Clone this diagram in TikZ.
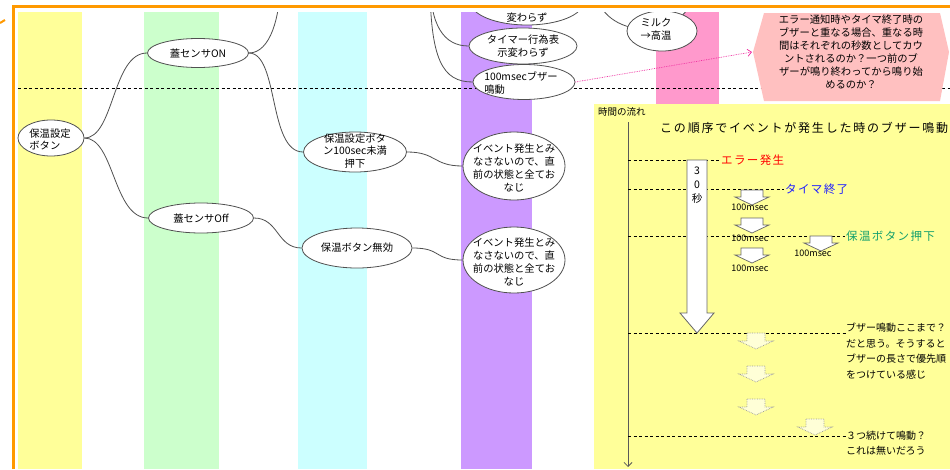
\documentclass[tikz,border=0pt]{standalone}
\usepackage{fontspec}
\setmainfont{Noto Sans CJK JP}
\newfontfamily\jpsp[LetterSpace=15]{Noto Sans CJK JP}
\newfontfamily\jpev[LetterSpace=12]{Noto Sans CJK JP}
\usetikzlibrary{shapes.geometric,arrows.meta}
\definecolor{frameor}{RGB}{255,153,0}
\definecolor{bandY}{RGB}{255,255,153}
\definecolor{bandG}{RGB}{204,255,204}
\definecolor{bandC}{RGB}{204,255,255}
\definecolor{bandP}{RGB}{204,153,255}
\definecolor{bandK}{RGB}{255,153,204}
\definecolor{hexpink}{RGB}{255,192,192}
\definecolor{linegray}{RGB}{80,80,80}
\definecolor{evgreen}{RGB}{20,160,110}
\definecolor{evblue}{RGB}{30,30,255}
\definecolor{fadefill}{RGB}{255,255,215}
\tikzset{
  ell/.style={ellipse, draw=linegray, line width=0.8pt, fill=white, inner sep=0pt},
  etext/.style={inner sep=0pt, align=center, font=\fontsize{10.3}{12.8}\selectfont},
  conn/.style={draw=linegray, line width=0.8pt},
  dline/.style={black, line width=0.6pt, dash pattern=on 3pt off 2.5pt},
  evtext/.style={inner sep=1pt, anchor=west, font=\jpev\fontsize{11.5}{13}\selectfont},
  notetext/.style={inner sep=1pt, anchor=west, align=left, font=\fontsize{10}{15.4}\selectfont},
  mslabel/.style={inner sep=0pt, font=\fontsize{9}{10}\selectfont},
  bigarrow/.style={fill=white, draw=black!60, line width=0.8pt},
  smallarrow/.style={fill=white, draw=black!60, line width=0.7pt},
  fadearrow/.style={fill=fadefill, draw=black!40, line width=0.7pt, densely dotted},
  darr/.pic={\filldraw[smallarrow] (-11,0) -- (11,0) -- (11,7) -- (17,7) -- (0,15) -- (-17,7) -- (-11,7) -- cycle;},
  farr/.pic={\filldraw[fadearrow] (-9,0) -- (9,0) -- (9,8) -- (17,8) -- (0,16) -- (-17,8) -- (-9,8) -- cycle;},
}
\begin{document}
\begin{tikzpicture}[x=1pt,y=-1pt]
\useasboundingbox (0,0) rectangle (950,469);
\fill[white] (0,0) rectangle (950,469);
\begin{scope}
\clip (15,12) rectangle (950,469);
% bands
\fill[bandY] (18,12) rectangle (82,469);
\fill[bandG] (144,12) rectangle (219,469);
\fill[bandC] (298,12) rectangle (367,469);
\fill[bandP] (461,12) rectangle (532,469);
\fill[bandK] (656,12) rectangle (719,104);
\fill[bandY] (594,104) rectangle (950,469);
% divider
\draw[dline] (18,88) -- (950,88);
% hexagon
\fill[hexpink] (753,52) -- (764,13) -- (940,13) -- (949,52) -- (940,101) -- (764,101) -- cycle;
\coordinate (hexL) at (752,52);
% ellipse nodes
\node[ell, minimum width=66pt, minimum height=36pt] (k) at (51,138) {};
\node[ell, minimum width=101pt, minimum height=29pt] (son) at (198,53) {};
\node[ell, minimum width=105pt, minimum height=30pt] (soff) at (201,218) {};
\node[ell, minimum width=103pt, minimum height=40pt] (p100) at (355,152) {};
\node[ell, minimum width=110pt, minimum height=40pt] (pinv) at (357,248) {};
\node[ell, minimum width=102pt, minimum height=68pt] (ev1) at (514,166) {};
\node[ell, minimum width=102pt, minimum height=66pt] (ev2) at (514,260) {};
\node[ell, minimum width=113pt, minimum height=46pt] (kw) at (527,2) {};
\node[ell, minimum width=108pt, minimum height=36pt] (tm) at (523,46) {};
\node[ell, minimum width=102pt, minimum height=35pt] (bz) at (524,82) {};
\node[ell, minimum width=96pt, minimum height=74pt] (bg) at (645,-8) {};
\node[ell, minimum width=70pt, minimum height=40pt] (mk) at (662,31) {};
\coordinate (up1) at (280,-15);
\coordinate (up2) at (430,-20);
% connectors
\draw[conn] (k.east) .. controls +(30,0) and +(-35,0) .. (son.west);
\draw[conn] (k.east) .. controls +(30,0) and +(-35,0) .. (soff.west);
\draw[conn] (son.east) .. controls +(30,0) and +(-35,0) .. (p100.west);
\draw[conn] (son.east) .. controls +(22,0) and +(0,30) .. (up1);
\draw[conn] (soff.east) .. controls +(25,0) and +(-25,0) .. (pinv.west);
\draw[conn] (p100.east) .. controls +(30,0) and +(-30,0) .. (ev1.west);
\draw[conn] (pinv.east) .. controls +(30,0) and +(-30,0) .. (ev2.west);
\draw[conn] (up2) .. controls +(0,45) and +(-25,0) .. (tm.west);
\draw[conn] (up2) .. controls +(0,80) and +(-30,0) .. (bz.west);
% node texts
\node[etext, align=left, font=\fontsize{10.3}{12}\selectfont] (kt) at (50,139) {保温設定\\ボタン};
\node[etext] (sont) at (198,53) {蓋センサON};
\node[etext] (sofft) at (201,218) {蓋センサOff};
\node[etext] (p100t) at (355,151) {保温設定ボタ\\ン100sec未満\\押下};
\node[etext] (pinvt) at (357,248) {保温ボタン無効};
\node[etext] (ev1t) at (514,168) {イベント発生とみ\\なさないので、直\\前の状態と全てお\\なじ};
\node[etext] (ev2t) at (514,262) {イベント発生とみ\\なさないので、直\\前の状態と全てお\\なじ};
\node[etext] (kwt) at (527,18) {変わらず};
\node[etext] (tmt) at (523,46) {タイマー行為表\\示変わらず};
\node[etext, align=left] (bzt) at (521,83) {100msecブザー\\鳴動};
\node[etext, align=left] (mkt) at (656,29) {ミルク\\→高温};
% pink arrow
\draw[magenta!85, line width=0.7pt, densely dotted, -{Straight Barb[length=4pt,width=7pt]}] (bz.east) -- (hexL);
% hexagon text
\node[etext, font=\fontsize{10.3}{13}\selectfont] (hx) at (851,52) {エラー通知時やタイマ終了時の\\ブザーと重なる場合、重なる時\\間はそれぞれの秒数としてカウ\\ントされるのか？一つ前のブ\\ザーが鳴り終わってから鳴り始\\めるのか？};
% ---- time panel ----
\node[inner sep=0pt, anchor=west, font=\fontsize{9.5}{11}\selectfont] (flow) at (598,112) {時間の流れ};
\draw[black!65, line width=0.8pt, -{Straight Barb[length=4pt,width=8pt]}] (628,122) -- (628,467);
\node[inner sep=0pt, anchor=west, font=\jpsp\fontsize{12}{14}\selectfont] (ttl) at (660,128) {この順序でイベントが発生した時のブザー鳴動};
\coordinate (a1) at (628,160);
\coordinate (a2) at (628,189);
\coordinate (a3) at (628,236);
\coordinate (a4) at (628,333);
\coordinate (a5) at (628,436);
\coordinate (b4) at (846,333);
\coordinate (b5) at (846,436);
\node[evtext, text=red] (e1) at (720,160) {エラー発生};
\node[evtext, text=evblue] (e2) at (784,189) {タイマ終了};
\node[evtext, text=evgreen] (e3) at (845,236) {保温ボタン押下};
\draw[dline] (a1) -- (e1.west);
\draw[dline] (a2) -- (e2.west);
\draw[dline] (a3) -- (e3.west);
\draw[dline] (a4) -- (b4);
\draw[dline] (a5) -- (b5);
\node[notetext] (n1) at (845,351) {ブザー鳴動ここまで？\\だと思う。そうすると\\ブザーの長さで優先順\\をつけている感じ};
\node[notetext] (n2) at (845,443) {３つ続けて鳴動？\\これは無いだろう};
% big arrow 30 sec
\filldraw[bigarrow] (687,160) -- (707,160) -- (707,313) -- (714,313) -- (697,333) -- (680,313) -- (687,313) -- cycle;
\node[inner sep=0pt, font=\fontsize{10.5}{12}\selectfont] (s1) at (697,171) {3};
\node[inner sep=0pt, font=\fontsize{10.5}{12}\selectfont] (s2) at (697,185) {0};
\node[inner sep=0pt, font=\fontsize{10.5}{12}\selectfont] (s3) at (697,199) {秒};
% small arrows
\pic at (752,190) {darr};
\pic at (752,218) {darr};
\pic at (752,248) {darr};
\pic at (821,236) {darr};
\node[mslabel] (m1) at (750,207) {100msec};
\node[mslabel] (m2) at (750,238) {100msec};
\node[mslabel] (m3) at (750,268) {100msec};
\node[mslabel] (m4) at (813,253) {100msec};
% faded arrows
\pic at (756,333) {farr};
\pic at (756,366) {farr};
\pic at (756,399) {farr};
\pic at (815,419) {farr};
\end{scope}
% frame
\draw[frameor, line width=3pt] (13.5,469) -- (13.5,6.5) -- (950,6.5);
\draw[frameor, line width=2pt] (0,23) -- (5,20);
\end{tikzpicture}
\end{document}
